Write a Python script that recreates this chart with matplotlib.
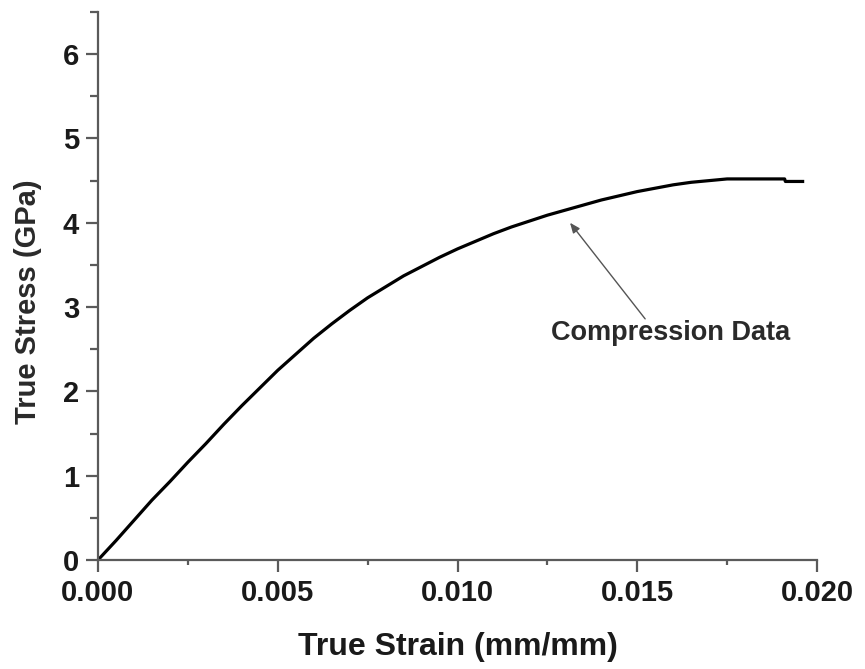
import matplotlib
matplotlib.use("Agg")
import matplotlib.pyplot as plt
from matplotlib.ticker import MultipleLocator, FormatStrFormatter

# Data
strain = [0.0000, 0.0005, 0.0010, 0.0015, 0.0020, 0.0025, 0.0030, 0.0035,
          0.0040, 0.0045, 0.0050, 0.0055, 0.0060, 0.0065, 0.0070, 0.0075,
          0.0080, 0.0085, 0.0090, 0.0095, 0.0100, 0.0105, 0.0110, 0.0115,
          0.0120, 0.0125, 0.0130, 0.0135, 0.0140, 0.0145, 0.0150, 0.0155,
          0.0160, 0.0165, 0.0170, 0.0175, 0.0180, 0.0185, 0.0191, 0.01912,
          0.0196]
stress = [0.00, 0.23, 0.47, 0.71, 0.93, 1.16, 1.38, 1.61,
          1.83, 2.04, 2.25, 2.44, 2.63, 2.80, 2.96, 3.11,
          3.24, 3.37, 3.48, 3.59, 3.69, 3.78, 3.87, 3.95,
          4.02, 4.09, 4.15, 4.21, 4.27, 4.32, 4.37, 4.41,
          4.45, 4.48, 4.50, 4.52, 4.52, 4.52, 4.52, 4.49,
          4.49]

x_ticks = [0.000, 0.005, 0.010, 0.015, 0.020]
y_ticks = [0, 1, 2, 3, 4, 5, 6]
annot_text = "Compression Data"
annot_head = (0.01313, 4.00)
annot_tail = (0.01522, 2.86)
annot_pos = (0.01594, 2.69)

plt.rcParams['font.family'] = ['Liberation Sans', 'DejaVu Sans']

fig = plt.figure(figsize=(8.65, 6.69), dpi=100)
W, H = 865, 669
ax = fig.add_axes([98 / W, (H - 560) / H, (817 - 98) / W, (560 - 12) / H])

ax.plot(strain, stress, color='black', lw=2.3, solid_joinstyle='round')

ax.set_xlim(0, 0.020)
ax.set_ylim(0, 6.5)

for s in ['top', 'right']:
    ax.spines[s].set_visible(False)
spine_col = '#5a5a5a'
for s in ['left', 'bottom']:
    ax.spines[s].set_color(spine_col)
    ax.spines[s].set_linewidth(1.6)

ax.set_xticks(x_ticks)
ax.set_yticks(y_ticks)
ax.xaxis.set_major_formatter(FormatStrFormatter('%.3f'))
ax.xaxis.set_minor_locator(MultipleLocator(0.0025))
ax.yaxis.set_minor_locator(MultipleLocator(0.5))

ax.tick_params(axis='both', which='major', direction='out', color=spine_col,
               width=1.6, length=8.6, labelsize=21)
ax.tick_params(axis='x', which='major', pad=5)
ax.tick_params(axis='y', which='major', pad=5)
ax.tick_params(axis='x', which='minor', direction='out', color=spine_col, width=1.6, length=3.6)
ax.tick_params(axis='y', which='minor', direction='out', color=spine_col, width=1.6, length=6)
for lab in ax.get_xticklabels() + ax.get_yticklabels():
    lab.set_fontweight('bold')
    lab.set_color('#1a1a1a')

ax.set_xlabel('True Strain (mm/mm)', fontsize=23, fontweight='bold', color='#1a1a1a',
              va='baseline')
ax.xaxis.set_label_coords(0.5, (560 - 655) / 548)
ax.set_ylabel('True Stress (GPa)', fontsize=21, fontweight='bold', color='#2a2a2a',
              va='center')
ax.yaxis.set_label_coords((28 - 98) / 719, (560 - 302) / 548)

ax.annotate('', xy=annot_head, xytext=annot_tail,
            arrowprops=dict(arrowstyle='-|>,head_length=0.6,head_width=0.25',
                            color='#555555', lw=1.0, shrinkA=0, shrinkB=0))
ax.text(annot_pos[0], annot_pos[1], annot_text, fontsize=19.5, fontweight='bold',
        color='#2a2a2a', ha='center', va='center')

fig.savefig('out.png', dpi=100)
